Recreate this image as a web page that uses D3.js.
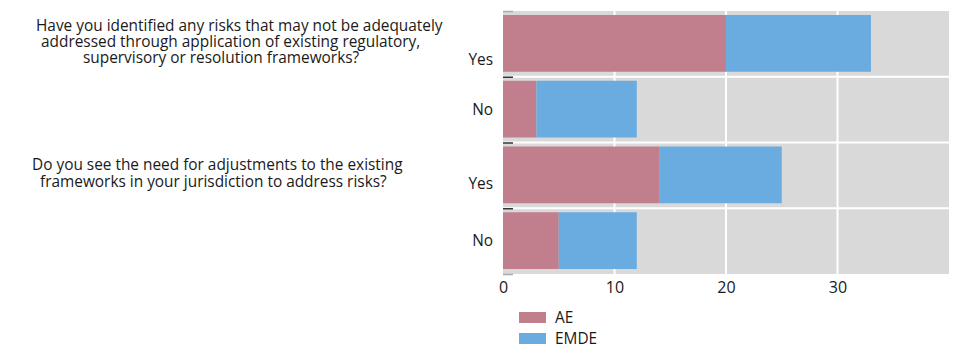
<!DOCTYPE html>
<html>
<head>
<meta charset="utf-8">
<script src="https://cdn.jsdelivr.net/npm/d3@7"></script>
<style>
  html, body { margin: 0; padding: 0; background: #fff; }
  svg { display: block; font-family: "Open Sans", "Noto Sans", sans-serif; }
</style>
</head>
<body>
<svg id="chart" width="958" height="355"></svg>
<script>
// ---- data ----
const questions = [
  ["Have you identified any risks that may not be adequately",
   "addressed through application of existing regulatory,",
   "supervisory or resolution frameworks?"],
  ["Do you see the need for adjustments to the existing",
   "frameworks in your jurisdiction to address risks?"]
];
const categories = ["Yes", "No", "Yes", "No"];
const questionIndex = [0, 0, 1, 1];
const seriesNames = ["AE", "EMDE"];
const aeValues = [20, 3, 14, 5];
const emdeValues = [13, 9, 11, 7];
const xTicks = [0, 10, 20, 30];

// ---- layout ----
const colors = { AE: "#c17f8e", EMDE: "#6aace0" };
const svg = d3.select("#chart");
const pLeft = 503, pRight = 949, pTop = 11, pBottom = 274;
const fs = 15.4;
const lineH = 16.3;
const textColor = "#1a1a1a";

const x = d3.scaleLinear().domain([0, 40]).range([pLeft, pRight]);
const y = d3.scaleBand().domain(d3.range(categories.length)).range([pTop, pBottom]).padding(0);

// background
svg.append("rect").attr("x", pLeft).attr("y", pTop)
  .attr("width", pRight - pLeft).attr("height", pBottom - pTop).attr("fill", "#d9d9d9");

// vertical gridlines
svg.append("g").selectAll("line").data(xTicks.filter(d => d > 0)).join("line")
  .attr("x1", d => x(d)).attr("x2", d => x(d))
  .attr("y1", pTop).attr("y2", pBottom)
  .attr("stroke", "#fff").attr("stroke-width", 2);

// horizontal gridlines (band boundaries)
const bounds = d3.range(1, categories.length).map(i => y(i));
svg.append("g").selectAll("line").data(bounds).join("line")
  .attr("x1", pLeft).attr("x2", pRight)
  .attr("y1", d => d).attr("y2", d => d)
  .attr("stroke", "#fff").attr("stroke-width", 2);

// stacked bars
const rows = categories.map((c, i) => ({ i, AE: aeValues[i], EMDE: emdeValues[i] }));
const stack = d3.stack().keys(seriesNames)(rows);
svg.append("g").selectAll("g").data(stack).join("g")
  .attr("fill", s => colors[s.key])
  .selectAll("rect").data(s => s).join("rect")
  .attr("x", d => x(d[0]))
  .attr("width", d => x(d[1]) - x(d[0]))
  .attr("y", d => y(d.data.i) + 4)
  .attr("height", y.bandwidth() - 9);

// y tick dashes
const allBounds = d3.range(0, categories.length + 1).map(i => i < categories.length ? y(i) : pBottom);
svg.append("g").selectAll("line").data(allBounds).join("line")
  .attr("x1", pLeft).attr("x2", pLeft + 10)
  .attr("y1", d => d + 0.5).attr("y2", d => d + 0.5)
  .attr("stroke", (d, i) => (i === 0 || i === categories.length) ? "#aaaaaa" : "#333")
  .attr("stroke-width", 1.5);

// x axis labels
const xAxis = d3.axisBottom(x).tickValues(xTicks).tickSize(0).tickPadding(8);
const gx = svg.append("g").attr("transform", `translate(0,${pBottom})`).call(xAxis);
gx.select(".domain").remove();
gx.selectAll("text").attr("font-size", 16).attr("fill", textColor)
  .attr("font-family", "Open Sans, sans-serif");

// category labels
svg.append("g").selectAll("text").data(categories).join("text")
  .attr("x", 493)
  .attr("y", (d, i) => {
    const c = y(i) + y.bandwidth() / 2;
    if (d === "Yes") {
      const n = questions[questionIndex[i]].length;
      return c + 5 + ((n - 1) / 2) * lineH;
    }
    return c + 5;
  })
  .attr("text-anchor", "end").attr("font-size", fs).attr("fill", textColor)
  .text(d => d);

// question labels (centred on their "Yes" band)
const lineX = [[36, 41, 83], [32, 40]];
questions.forEach((lines, q) => {
  const row = questionIndex.indexOf(q);
  const c = y(row) + y.bandwidth() / 2;
  const n = lines.length;
  svg.append("text")
    .attr("font-size", fs).attr("fill", textColor)
    .selectAll("tspan").data(lines).join("tspan")
    .attr("x", (d, k) => lineX[q][k])
    .attr("y", (d, k) => c + 3 + (k - (n - 1) / 2) * lineH)
    .text(d => d);
});

// legend
const lg = svg.append("g").attr("transform", "translate(519,312)");
const li = lg.selectAll("g").data(seriesNames).join("g")
  .attr("transform", (d, i) => `translate(0,${i * 21})`);
li.append("rect").attr("width", 27).attr("height", 11).attr("fill", d => colors[d]);
li.append("text").attr("x", 36).attr("y", 11).attr("font-size", fs).attr("fill", textColor).text(d => d);
</script>
</body>
</html>
